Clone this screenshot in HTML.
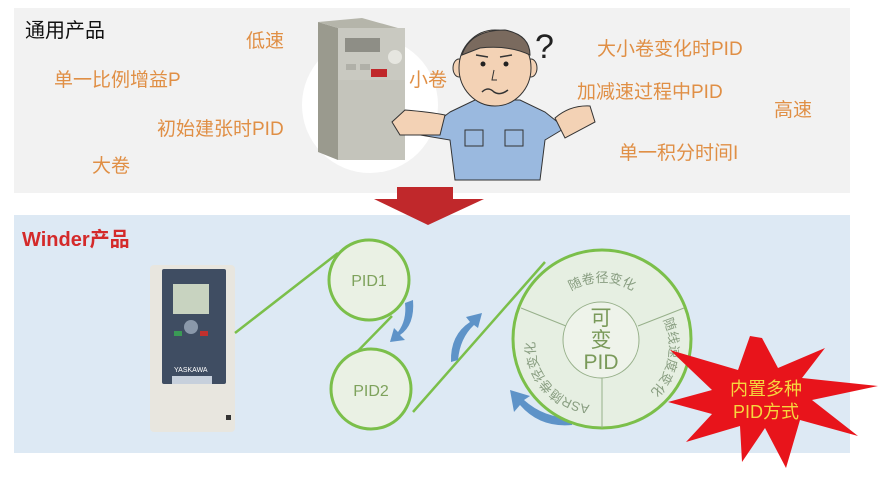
<!DOCTYPE html>
<html><head><meta charset="utf-8"><style>
html,body{margin:0;padding:0;background:#fff;}
svg{display:block;}
text{font-family:"Liberation Sans","Noto Sans CJK SC",sans-serif;}
</style></head><body>
<svg width="884" height="479" viewBox="0 0 884 479" xmlns="http://www.w3.org/2000/svg">
<defs>
<path id="arcTop" d="M546,325 A58,58 0 0 1 658,325"/>
<path id="arcR" d="M662,318 A62,62 0 0 1 632,404"/>
<path id="arcL" d="M592,405 A62,62 0 0 1 540,318"/>
</defs>
<rect x="14" y="8" width="836" height="185" fill="#f2f2f2"/>
<ellipse cx="370" cy="105" rx="68" ry="68" fill="#fff"/>
<polygon points="318,22 338,28 338,160 318,152" fill="#9a9a8e"/>
<polygon points="318,22 362,18 405,30 338,28" fill="#b5b5aa"/>
<rect x="338" y="28" width="67" height="132" fill="#c9c9c1"/>
<rect x="338" y="80" width="67" height="80" fill="#c4c4bb"/>
<rect x="345" y="38" width="35" height="14" fill="#8e8e86"/>
<circle cx="395" cy="57" r="7" fill="#e6e6e0"/>
<rect x="371" y="69" width="16" height="8" fill="#c0282b"/>
<rect x="346" y="64" width="10" height="6" fill="#b0b0a8"/><rect x="360" y="64" width="10" height="6" fill="#b0b0a8"/>
<path d="M450,112 L475,100 L520,100 L545,112 L565,128 L545,140 L540,180 L455,180 L450,140 L420,135 Z" fill="#9ab9df" stroke="#333" stroke-width="1"/>
<path d="M445,115 Q430,112 405,110 L392,122 L400,135 L440,135 Z" fill="#f3d2b5" stroke="#333" stroke-width="1"/>
<path d="M555,118 Q570,105 590,106 L595,122 L565,138 Z" fill="#f3d2b5" stroke="#333" stroke-width="1"/>
<rect x="465" y="130" width="18" height="16" fill="none" stroke="#333" stroke-width="1"/>
<rect x="505" y="130" width="18" height="16" fill="none" stroke="#333" stroke-width="1"/>
<ellipse cx="459" cy="68" rx="6" ry="9" fill="#f3d2b5" stroke="#333" stroke-width="1"/>
<ellipse cx="531" cy="68" rx="6" ry="9" fill="#f3d2b5" stroke="#333" stroke-width="1"/>
<ellipse cx="495" cy="68" rx="36" ry="38" fill="#f3d2b5" stroke="#333" stroke-width="1"/>
<path d="M462,55 Q470,30 505,30 Q530,35 530,55 Q510,45 480,48 Z" fill="#7a6a5e" stroke="#333" stroke-width="1"/>
<circle cx="483" cy="64" r="2.5" fill="#222"/><circle cx="506" cy="64" r="2.5" fill="#222"/>
<path d="M476,55 L488,57 M500,57 L512,55" stroke="#333" stroke-width="1.5"/>
<path d="M494,70 L492,80 L497,80" stroke="#333" fill="none"/>
<path d="M482,92 Q488,86 494,92 Q500,96 508,90" stroke="#333" fill="none" stroke-width="1.5"/>
<text x="535" y="58" font-size="34" fill="#222">?</text>
<g font-size="19" fill="#e08f45">
<text x="246" y="47">低速</text>
<text x="54" y="86">单一比例增益P</text>
<text x="157" y="135">初始建张时PID</text>
<text x="92" y="172">大卷</text>
<text x="409" y="86">小卷</text>
<text x="597" y="55">大小卷变化时PID</text>
<text x="577" y="98">加减速过程中PID</text>
<text x="774" y="116">高速</text>
<text x="619" y="159">单一积分时间I</text>
</g>
<text x="25" y="37" font-size="20" fill="#111">通用产品</text>
<rect x="14" y="215" width="836" height="238" fill="#dde9f4"/>
<polygon points="397,187 453,187 453,199 484,199 428,225 374,199 397,199" fill="#c0282b"/>
<text x="22" y="246" font-size="20" font-weight="bold" fill="#d42a2a">Winder产品</text>
<rect x="150" y="265" width="85" height="167" rx="4" fill="#e8e6df"/>
<rect x="162" y="269" width="64" height="115" rx="2" fill="#3f4d62"/>
<rect x="173" y="284" width="36" height="30" fill="#c8d3c0"/>
<circle cx="191" cy="327" r="7" fill="#8a98aa"/>
<rect x="174" y="331" width="8" height="5" fill="#3a9a55"/><rect x="200" y="331" width="8" height="5" fill="#c0302e"/>
<rect x="172" y="376" width="40" height="8" fill="#c7d0dc"/>
<text x="174" y="372" font-size="7" fill="#fff">YASKAWA</text>
<rect x="226" y="415" width="5" height="5" fill="#333"/>
<g stroke="#7bbf4a" stroke-width="2.5" fill="none">
<line x1="235" y1="333" x2="338" y2="253"/>
<line x1="392" y1="316" x2="352" y2="357"/>
<line x1="413" y1="412" x2="545" y2="262"/>
</g>
<circle cx="369" cy="280" r="40" fill="#eaf1e4" stroke="#7bbf4a" stroke-width="3"/>
<circle cx="371" cy="389" r="40" fill="#eaf1e4" stroke="#7bbf4a" stroke-width="3"/>
<text x="369" y="286" font-size="16" fill="#7ea25c" text-anchor="middle">PID1</text>
<text x="371" y="396" font-size="16" fill="#7ea25c" text-anchor="middle">PID2</text>
<path d="M413,300 Q415,325 400,335 L405,340 L390,342 L394,328 L398,332 Q407,320 405,303 Z" fill="#5e93c8"/>
<path d="M451,362 Q450,335 470,322 L466,317 L482,313 L478,328 L474,325 Q460,338 458,360 Z" fill="#5e93c8"/>
<path d="M572,425 Q540,428 520,405 L514,412 L510,390 L530,396 L524,400 Q544,418 572,418 Z" fill="#5e93c8"/>
<circle cx="602" cy="339" r="89" fill="#e6efe2" stroke="#7bbf4a" stroke-width="3"/>
<g stroke="#97b08a" stroke-width="1">
<line x1="521" y1="308" x2="566" y2="326"/>
<line x1="684" y1="308" x2="638" y2="326"/>
<line x1="602" y1="378" x2="602" y2="428"/>
</g>
<circle cx="601" cy="340" r="38" fill="#eef3ea" stroke="#97b08a" stroke-width="1"/>
<g font-size="21" fill="#7a9a5a" text-anchor="middle">
<text x="601" y="325">可</text>
<text x="601" y="347">变</text>
<text x="601" y="369">PID</text>
</g>
<g font-size="13" fill="#889d80">
<text text-anchor="middle"><textPath href="#arcTop" startOffset="50%">随卷径变化</textPath></text>
<text><textPath href="#arcR" startOffset="2%">随线速度变化</textPath></text>
<text><textPath href="#arcL" startOffset="2%">ASR随卷径变化</textPath></text>
</g>
<polygon fill="#e8141b" points="762,338 778,368 825,348 802,378 878,386 812,400 858,436 800,420 786,468 765,428 742,462 740,426 686,442 712,414 668,402 712,390 670,350 738,370 750,336" />
<g font-size="18" fill="#f6d63e" text-anchor="middle">
<text x="766" y="395">内置多种</text>
<text x="766" y="418">PID方式</text>
</g>
</svg>
</body></html>
